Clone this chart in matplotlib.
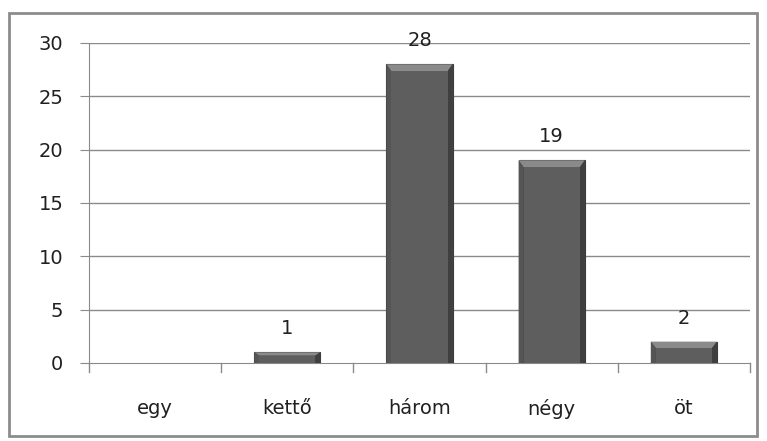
import matplotlib
matplotlib.use("Agg")
import matplotlib.pyplot as plt
from matplotlib.patches import Rectangle, Polygon

categories = ["egy", "kettő", "három", "négy", "öt"]
values = [0, 1, 28, 19, 2]
yticks = [0, 5, 10, 15, 20, 25, 30]

plt.rcParams["font.family"] = ["DejaVu Sans"]

W, H = 767, 441
fig = plt.figure(figsize=(W / 100, H / 100), dpi=100)
fig.patch.set_facecolor("white")
fig.add_artist(Rectangle((9 / W, 1 - 436 / H), (757 - 9) / W, (436 - 13) / H,
                         transform=fig.transFigure, fill=False,
                         edgecolor="#8c8c8c", linewidth=2))

ax = fig.add_axes([89 / W, 1 - 363 / H, (750 - 89) / W, (363 - 43) / H])
ax.set_xlim(-0.5, len(categories) - 0.5)
ax.set_ylim(0, 30)

for y in yticks[1:]:
    ax.axhline(y, color="#8a8a8a", linewidth=1, zorder=0)

bw = 0.5
px_x = (len(categories)) / 661.0   # data units per pixel (x)
px_y = 30 / 320.0                  # data units per pixel (y)
x = list(range(len(categories)))
for xi, v in zip(x, values):
    if v <= 0:
        continue
    x0, x1 = xi - bw / 2, xi + bw / 2
    # base bar (dark edge)
    ax.add_patch(Rectangle((x0, 0), bw, v, facecolor="#474747",
                           edgecolor="#3c3c3c", linewidth=0.8, zorder=3))
    ix = 5 * px_x
    iy = min(7 * px_y, v * 0.3)
    # light top bevel
    ax.add_patch(Polygon([(x0, v), (x1, v), (x1 - ix, v - iy), (x0 + ix, v - iy)],
                         closed=True, facecolor="#8a8a8a", linewidth=0, zorder=4))
    # side bevels
    ax.add_patch(Polygon([(x0, v), (x0 + ix, v - iy), (x0 + ix, 0), (x0, 0)],
                         closed=True, facecolor="#555555", linewidth=0, zorder=4))
    ax.add_patch(Polygon([(x1, v), (x1 - ix, v - iy), (x1 - ix, 0), (x1, 0)],
                         closed=True, facecolor="#3f3f3f", linewidth=0, zorder=4))
    # face
    ax.add_patch(Rectangle((x0 + ix, 0), bw - 2 * ix, v - iy, facecolor="#5e5e5e",
                           linewidth=0, zorder=4))
    ax.text(xi, v + 18 * px_y, str(v), ha="center", va="baseline", fontsize=14,
            color="#202020")

ax.set_yticks(yticks)
ax.set_yticklabels([str(t) for t in yticks], fontsize=14, color="#202020")
ax.tick_params(axis="y", length=6.5, color="#8a8a8a", pad=12)
ax.set_xticks(x)
ax.set_xticklabels(categories, fontsize=14, color="#202020")
ax.tick_params(axis="x", length=0, pad=26)
for b in [i - 0.5 for i in range(len(categories) + 1)]:
    ax.plot([b, b], [0, -9 * px_y], color="#8a8a8a", linewidth=1, clip_on=False, zorder=2)

for s in ["top", "right"]:
    ax.spines[s].set_visible(False)
ax.spines["left"].set_color("#8a8a8a")
ax.spines["bottom"].set_color("#8a8a8a")

fig.savefig("out.png", dpi=100)
